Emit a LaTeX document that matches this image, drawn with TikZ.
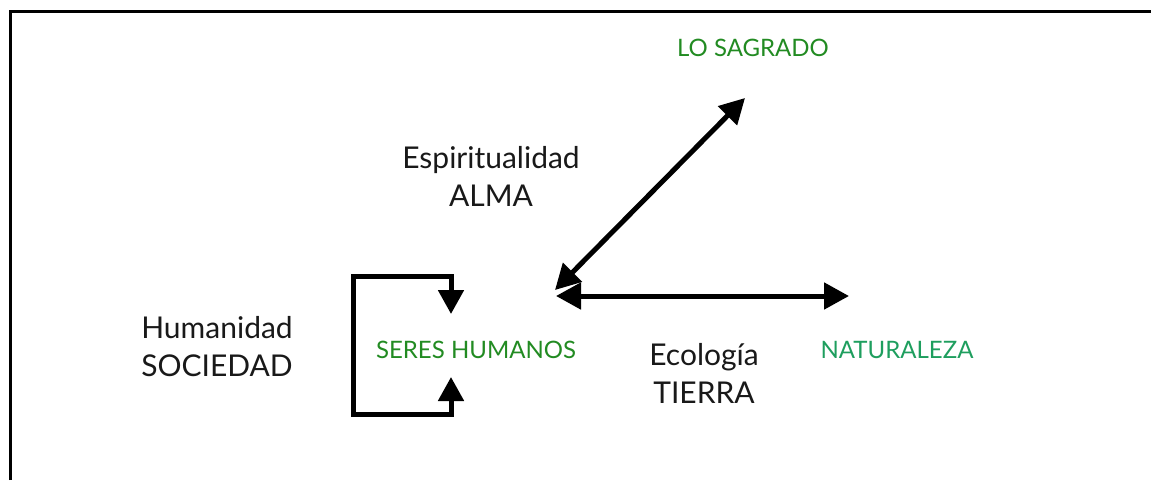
\documentclass[tikz,border=0pt]{standalone}
\usepackage{fontspec}
\setmainfont{Lato}
\usetikzlibrary{arrows.meta}
\definecolor{grA}{HTML}{228B22}
\definecolor{grB}{HTML}{1E9E5E}
\begin{document}
\begin{tikzpicture}[x=1pt,y=-1pt,
  green lbl/.style={font=\fontsize{24}{28}\selectfont, inner sep=0pt, anchor=center},
  black lbl/.style={font=\fontsize{30}{38}\selectfont, inner sep=0pt, align=center, text=black!90},
  bigarrow/.style={line width=5pt, {Triangle[length=25pt,width=26pt]}-{Triangle[length=25pt,width=26pt]}},
  onearrow/.style={line width=5pt, line join=miter, -{Triangle[length=24pt,width=25pt]}},
  frame/.style={line width=3pt}]
\useasboundingbox (0,0) rectangle (1151,480);
\draw[frame] (10.5,480) -- (10.5,11) -- (1151,11);

\node[green lbl, text=grA] (sagrado) at (753,48) {LO SAGRADO};
\node[green lbl, text=grA] (seres) at (476,350) {SERES HUMANOS};
\node[green lbl, text=grB] (natur) at (897,350) {NATURALEZA};

\node[black lbl] (espir) at (491,176) {Espiritualidad\\ALMA};
\node[black lbl] (ecol) at (704,373) {Ecología\\TIERRA};
\node[black lbl] (human) at (217,347) {Humanidad\\SOCIEDAD};

\coordinate (dA) at (745,98);
\coordinate (dB) at (555,290);
\coordinate (hA) at (556,296);
\coordinate (hB) at (849,296);
\coordinate (bTop) at (451,314);
\coordinate (bBot) at (451,377);
\coordinate (c1) at (353,276.5);
\coordinate (c2) at (353,414);

\draw[bigarrow] (dB) -- (dA);
\draw[bigarrow] (hA) -- (hB);
\draw[onearrow] (c1) -| (bTop);
\draw[onearrow] (353,274) -- (c2) -| (bBot);
\end{tikzpicture}
\end{document}
